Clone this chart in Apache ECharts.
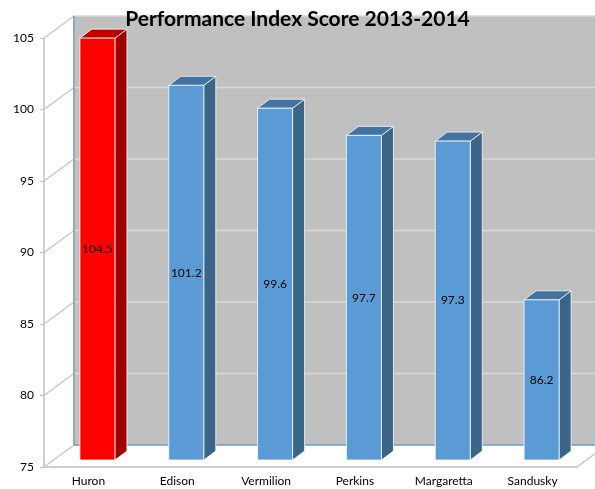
<!DOCTYPE html>
<html>
<head>
<meta charset="utf-8">
<script src="https://cdn.jsdelivr.net/npm/echarts@6/dist/echarts.min.js"></script>
<style>
  html, body { margin: 0; padding: 0; background: #fff; }
  #chart { width: 595px; height: 489px; }
</style>
</head>
<body>
<div id="chart"></div>
<script>
// chart data
const categories = ["Huron", "Edison", "Vermilion", "Perkins", "Margaretta", "Sandusky"];
const scores = [104.5, 101.2, 99.6, 97.7, 97.3, 86.2];
const yTicks = [75, 80, 85, 90, 95, 100, 105];
const highlight = "Huron";

const yMin = yTicks[0];
const yMax = yTicks[yTicks.length - 1];
const FONT = "Lato";

// 3d look: wall depth offset and bar depth
const WALL_DX = 30, WALL_DY = -22;
const BAR_OX = 9, BAR_OY = -7;   // bar front face pushed back a bit
const BAR_DX = 12, BAR_DY = -9;  // bar depth
const BAR_W = 35;

const chart = echarts.init(document.getElementById("chart"));

// back wall, gridlines, left wall lines
function renderWalls(params, api) {
  const cs = params.coordSys;
  const left = cs.x, right = cs.x + cs.width;
  const yOf = v => api.coord([0, v])[1];
  const yb = yOf(yMin), yt = yOf(yMax);
  const kids = [];
  kids.push({
    type: "polygon",
    shape: { points: [[left + WALL_DX, yt + WALL_DY], [right + WALL_DX, yt + WALL_DY],
                      [right + WALL_DX, yb + WALL_DY], [left + WALL_DX, yb + WALL_DY]] },
    style: { fill: "#c0c0c0" }
  });
  yTicks.forEach(v => {
    const y = yOf(v);
    if (v !== yMin) {
      kids.push({
        type: "line",
        shape: { x1: left + WALL_DX, y1: y + WALL_DY, x2: right + WALL_DX, y2: y + WALL_DY },
        style: { stroke: "#d9d9d9", lineWidth: 1.5 }
      });
    }
    kids.push({
      type: "line",
      shape: { x1: left, y1: y, x2: left + WALL_DX, y2: y + WALL_DY },
      style: { stroke: "#c8c8c8", lineWidth: 1.5 }
    });
  });
  // floor right edge
  kids.push({
    type: "line",
    shape: { x1: right, y1: yb, x2: right + WALL_DX, y2: yb + WALL_DY },
    style: { stroke: "#c8c8c8", lineWidth: 1.5 }
  });
  // wall edges
  kids.push({
    type: "line",
    shape: { x1: left + WALL_DX, y1: yt + WALL_DY, x2: left + WALL_DX, y2: yb + WALL_DY },
    style: { stroke: "#8fa9c9", lineWidth: 2 }
  });
  kids.push({
    type: "line",
    shape: { x1: left + WALL_DX, y1: yb + WALL_DY, x2: right + WALL_DX, y2: yb + WALL_DY },
    style: { stroke: "#6d9bd2", lineWidth: 1.5 }
  });
  return { type: "group", children: kids };
}

function renderBar(params, api) {
  const idx = api.value(0);
  const v = api.value(1);
  const top = api.coord([idx, v]);
  const base = api.coord([idx, yMin]);
  const x0 = top[0] + BAR_OX - BAR_W / 2, x1 = x0 + BAR_W;
  const yt = top[1] + BAR_OY, yb = base[1] + BAR_OY;
  const red = categories[idx] === highlight;
  const c = red
    ? { front: "#ff0000", side: "#a00000", top: "#c00000" }
    : { front: "#5b9bd5", side: "#3a6488", top: "#4473a2" };
  const edge = { stroke: "rgba(255,255,255,0.75)", lineWidth: 1 };
  return {
    type: "group",
    children: [
      {
        type: "polygon",
        shape: { points: [[x1, yt], [x1 + BAR_DX, yt + BAR_DY], [x1 + BAR_DX, yb + BAR_DY], [x1, yb]] },
        style: Object.assign({ fill: c.side }, edge)
      },
      {
        type: "polygon",
        shape: { points: [[x0, yt], [x0 + BAR_DX, yt + BAR_DY], [x1 + BAR_DX, yt + BAR_DY], [x1, yt]] },
        style: Object.assign({ fill: c.top }, edge)
      },
      {
        type: "rect",
        shape: { x: x0, y: yt, width: BAR_W, height: yb - yt },
        style: Object.assign({ fill: c.front }, edge)
      },
      {
        type: "text",
        style: {
          x: (x0 + x1) / 2, y: (yt + yb) / 2,
          text: String(v), fill: "#000", font: "12px " + FONT,
          align: "center", verticalAlign: "middle"
        }
      }
    ]
  };
}

chart.setOption({
  animation: false,
  title: {
    text: "Performance Index Score 2013-2014",
    left: "center",
    top: 4,
    textStyle: { fontFamily: FONT, fontWeight: "bold", fontSize: 21, color: "#000" }
  },
  grid: { left: 44, right: 18, top: 38, bottom: 22 },
  xAxis: {
    type: "category",
    data: categories,
    axisLine: { lineStyle: { color: "#bfbfbf", width: 1.5 } },
    axisTick: { length: 4, lineStyle: { color: "#bfbfbf" } },
    axisLabel: { color: "#000", fontFamily: FONT, fontSize: 12, margin: 8 }
  },
  yAxis: {
    type: "value",
    min: yMin,
    max: yMax,
    interval: 5,
    axisLine: { show: true, lineStyle: { color: "#bfbfbf", width: 1.5 } },
    axisTick: { show: true, length: 4, lineStyle: { color: "#bfbfbf" } },
    axisLabel: { color: "#000", fontFamily: FONT, fontSize: 12, margin: 10 },
    splitLine: { show: false }
  },
  series: [
    {
      type: "custom",
      z: 1,
      renderItem: renderWalls,
      data: [[0, yMin]],
      silent: true
    },
    {
      type: "custom",
      z: 3,
      renderItem: renderBar,
      data: scores.map((s, i) => [i, s])
    }
  ]
});
</script>
</body>
</html>
